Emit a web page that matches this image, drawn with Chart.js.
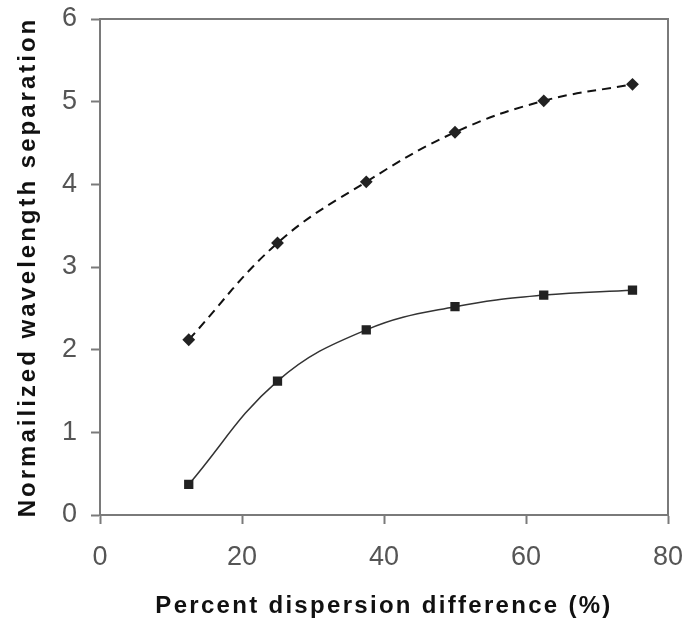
<!DOCTYPE html>
<html>
<head>
<meta charset="utf-8">
<script src="https://cdn.jsdelivr.net/npm/chart.js@4/dist/chart.umd.min.js"></script>
<style>
  html, body { margin: 0; padding: 0; background: #fff; }
  #wrap { width: 690px; height: 627px; }
</style>
</head>
<body>
<div id="wrap"><canvas id="myChart" width="690" height="627"></canvas></div>
<script>
// dispersion difference (%) on x, normalized separation on y
var xValues = [12.5, 25, 37.5, 50, 62.5, 75];
var upperSep = [2.12, 3.29, 4.03, 4.63, 5.01, 5.21];
var lowerSep = [0.37, 1.62, 2.24, 2.52, 2.66, 2.72];
var xTitle = "Percent dispersion difference (%)";
var yTitle = "Normailized wavelength separation";

function pts(ys) {
  return xValues.map(function (x, i) { return { x: x, y: ys[i] }; });
}

// grey box (top + right) and the spaced-out bold axis titles
const boxPlugin = {
  id: "box",
  afterDraw: function (c) {
    var a = c.chartArea, ctx = c.ctx;
    ctx.save();
    ctx.strokeStyle = "#7a7a7a";
    ctx.lineWidth = 2;
    ctx.beginPath();
    ctx.moveTo(a.left, a.top);
    ctx.lineTo(a.right, a.top);
    ctx.lineTo(a.right, a.bottom);
    ctx.stroke();

    ctx.fillStyle = "#111";
    ctx.font = "bold 24px 'Liberation Sans', Arial, sans-serif";
    ctx.textAlign = "center";
    ctx.textBaseline = "middle";
    ctx.letterSpacing = "2.3px";
    ctx.fillText(xTitle, 384, 606);

    ctx.letterSpacing = "3px";
    ctx.translate(28, (a.top + a.bottom) / 2);
    ctx.rotate(-Math.PI / 2);
    ctx.fillText(yTitle, 0, 0);
    ctx.restore();
  }
};

Chart.defaults.font.family = "'Liberation Sans', Arial, sans-serif";

const chart = new Chart("myChart", {
  type: "line",
  data: {
    datasets: [{
      data: pts(upperSep),
      borderColor: "#111",
      borderWidth: 2,
      borderDash: [9, 6],
      pointStyle: "rectRot",
      pointRadius: 5,
      pointBackgroundColor: "#222",
      pointBorderColor: "#222",
      tension: 0.4,
      fill: false
    }, {
      data: pts(lowerSep),
      borderColor: "#333",
      borderWidth: 1.5,
      pointStyle: "rect",
      pointRadius: 5.5,
      pointBackgroundColor: "#222",
      pointBorderColor: "#222",
      tension: 0.4,
      fill: false
    }]
  },
  options: {
    responsive: false,
    animation: false,
    layout: { padding: { left: 0, right: 22, top: 19, bottom: 0 } },
    plugins: { legend: { display: false }, tooltip: { enabled: false } },
    scales: {
      x: {
        type: "linear",
        min: 0, max: 80,
        ticks: { stepSize: 20, color: "#555", font: { size: 27 }, padding: 17 },
        grid: { drawOnChartArea: false, tickLength: 9, tickColor: "#7a7a7a", tickWidth: 2 },
        border: { color: "#7a7a7a", width: 2 },
        afterFit: function (s) { s.height = 112; s.paddingLeft = 0; s.paddingRight = 0; }
      },
      y: {
        min: 0, max: 6,
        ticks: { stepSize: 1, color: "#555", font: { size: 27 }, padding: 14 },
        grid: { drawOnChartArea: false, tickLength: 9, tickColor: "#7a7a7a", tickWidth: 2 },
        border: { color: "#7a7a7a", width: 2 },
        afterFit: function (s) { s.width = 100; s.paddingTop = 0; s.paddingBottom = 0; }
      }
    }
  },
  plugins: [boxPlugin]
});
</script>
</body>
</html>
